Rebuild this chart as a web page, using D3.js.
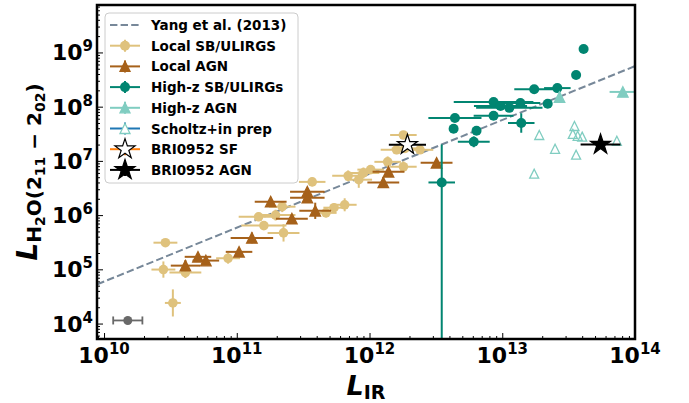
<!DOCTYPE html>
<html>
<head>
<meta charset="utf-8">
<script src="https://cdn.jsdelivr.net/npm/d3@7"></script>
<style>
body { margin: 0; background: #fff; }
text { font-family: "DejaVu Sans", sans-serif; font-weight: bold; }
</style>
</head>
<body>
<svg id="chart" width="689" height="403"></svg>
<script>
// rows: [L_IR, L_H2O, xerr (dex), yerr (dex), optional lower yerr (dex)]
const localSB = [
    [2.9e10, 3.1e5, 0.09, 0.04], [2.8e10, 9.9e4, 0.09, 0.15], [4.1e10, 8.7e4, 0.12, 0.1],
    [3.3e10, 2.4e4, 0.06, 0.25], [8.6e10, 1.6e5, 0.09, 0.1], [1.6e11, 6.4e5, 0.17, 0.08],
    [2.25e11, 4.7e5, 0.12, 0.16], [1.46e11, 9.3e5, 0.15, 0.08], [1.96e11, 1.0e6, 0.15, 0.1],
    [2.2e11, 1.43e6, 0.1, 0.1], [3.7e11, 4.1e6, 0.1, 0.08], [4.7e11, 1.1e6, 0.08, 0.08],
    [5.4e11, 1.37e6, 0.08, 0.08], [6.5e11, 1.55e6, 0.09, 0.12], [6.9e11, 5.3e6, 0.12, 0.1],
    [8.3e11, 4.5e6, 0.1, 0.15], [9.0e11, 6.0e6, 0.12, 0.1], [1.02e12, 6.9e6, 0.1, 0.08],
    [1.37e12, 9.6e6, 0.1, 0.1], [1.8e12, 7.8e6, 0.1, 0.1], [1.8e12, 3.0e7, 0.1, 0.06],
    [1.6e12, 1.6e7, 0.12, 0.08], [1.85e12, 1.7e7, 0.1, 0.08], [2.4e12, 1.6e7, 0.1, 0.06]
];
const localAGN = [
    [4.1e10, 1.17e5, 0.11, 0.1], [5.1e10, 1.7e5, 0.1, 0.06], [5.85e10, 1.45e5, 0.1, 0.06],
    [1.04e11, 2.1e5, 0.1, 0.06], [1.3e11, 3.8e5, 0.16, 0.1], [1.8e11, 1.77e6, 0.12, 0.06],
    [2.6e11, 8.6e5, 0.12, 0.08], [3.4e11, 2.7e6, 0.13, 0.06], [3.4e11, 2.1e6, 0.13, 0.06],
    [3.9e11, 1.2e6, 0.12, 0.15], [1.39e12, 6.3e6, 0.12, 0.06], [1.27e12, 4.0e6, 0.12, 0.1],
    [3.2e12, 9.2e6, 0.12, 0.06]
];
const highzSB = [
    [4.1e13, 1.16e9, 0.02, 0.06], [3.6e13, 3.85e8, 0.02, 0.03], [1.74e13, 2.1e8, 0.15, 0.04],
    [2.6e13, 2.2e8, 0.1, 0.03], [8.6e12, 1.22e8, 0.3, 0.05], [9.7e12, 1.03e8, 0.2, 0.04],
    [1.13e13, 9.5e7, 0.25, 0.06], [1.37e13, 1.17e8, 0.15, 0.08], [2.2e13, 1.13e8, 0.02, 0.03],
    [4.4e12, 6.2e7, 0.2, 0.05], [8.6e12, 6.8e7, 0.15, 0.05], [4.3e12, 3.9e7, 0.02, 0.03],
    [6.4e12, 3.6e7, 0.02, 0.05], [6.1e12, 2.25e7, 0.12, 0.1], [1.39e13, 5.0e7, 0.1, 0.18],
    [3.5e12, 4.0e6, 0.1, 0.7, 5]
];
const highzAGN = [
    [8.1e13, 1.87e8, 0.1, 0.02], [2.7e13, 1.5e8, 0.02, 0.1]
];
const scholtz = [
    [1.9e13, 3.0e7], [2.5e13, 1.67e7], [1.74e13, 5.8e6], [3.5e13, 4.4e7], [3.4e13, 3.15e7],
    [3.7e13, 2.9e7], [4.0e13, 2.8e7], [3.6e13, 1.3e7], [7.3e13, 2.35e7]
];
const briSF = [[1.93e12, 1.98e7, 0.14, 0.07]];
const briAGN = [[5.5e13, 2.0e7, 0.15, 0.06]];
const typicalErr = [[1.51e10, 1.14e4, 0.11, 0]];
const yangLine = [[8.9e9, 5.3e4], [1e14, 5.6e8]];

const legendLabels = ["Yang et al. (2013)", "Local SB/ULIRGS", "Local AGN", "High-z SB/ULIRGs",
    "High-z AGN", "Scholtz+in prep", "BRI0952 SF", "BRI0952 AGN"];
const xTicks = [1e10, 1e11, 1e12, 1e13, 1e14];
const yTicks = [1e4, 1e5, 1e6, 1e7, 1e8, 1e9];

const svg = d3.select("#chart");
const mLeft = 97, mRight = 635, mTop = 5, mBottom = 339;

const x = d3.scaleLog().domain([10 ** 9.947, 1e14]).range([mLeft, mRight]);
const y = d3.scaleLog().domain([10 ** 3.715, 10 ** 9.875]).range([mBottom, mTop]);

svg.append("clipPath").attr("id", "clip")
    .append("rect").attr("x", mLeft).attr("y", mTop).attr("width", mRight - mLeft).attr("height", mBottom - mTop);

const plot = svg.append("g").attr("clip-path", "url(#clip)");

// fit line
plot.append("path")
    .datum(yangLine)
    .attr("d", d3.line().x(d => x(d[0])).y(d => y(d[1])))
    .attr("fill", "none")
    .attr("stroke", "#778899")
    .attr("stroke-width", 2)
    .attr("stroke-dasharray", "7.4,3.2");

function triPath(s) {
    const h = s / 2;
    return `M0,${-h}L${h},${h}L${-h},${h}Z`;
}

function drawErrors(data, color, width, caps) {
    const g = plot.append("g").attr("stroke", color).attr("stroke-width", width);
    g.selectAll(null).data(data.filter(d => d[2] > 0)).join("line")
        .attr("x1", d => x(d[0] / 10 ** d[2]))
        .attr("x2", d => x(d[0] * 10 ** d[2]))
        .attr("y1", d => y(d[1]))
        .attr("y2", d => y(d[1]));
    g.selectAll(null).data(data.filter(d => d[3] > 0)).join("line")
        .attr("x1", d => x(d[0]))
        .attr("x2", d => x(d[0]))
        .attr("y1", d => y(d[1] / 10 ** (d.length > 4 ? d[4] : d[3])))
        .attr("y2", d => y(d[1] * 10 ** d[3]));
    if (caps) {
        for (const side of [-1, 1]) {
            g.selectAll(null).data(data).join("line")
                .attr("x1", d => x(d[0] * 10 ** (side * d[2])))
                .attr("x2", d => x(d[0] * 10 ** (side * d[2])))
                .attr("y1", d => y(d[1]) - 4)
                .attr("y2", d => y(d[1]) + 4);
        }
    }
}

function drawCircles(data, color, r) {
    plot.append("g").selectAll(null).data(data).join("circle")
        .attr("cx", d => x(d[0]))
        .attr("cy", d => y(d[1]))
        .attr("r", r)
        .attr("fill", color);
}

function drawTriangles(data, fill, stroke, size) {
    plot.append("g").selectAll(null).data(data).join("path")
        .attr("transform", d => `translate(${x(d[0])},${y(d[1])})`)
        .attr("d", triPath(size))
        .attr("fill", fill)
        .attr("stroke", stroke)
        .attr("stroke-width", 1.3);
}

function drawStars(data, fill) {
    plot.append("g").selectAll(null).data(data).join("path")
        .attr("transform", d => `translate(${x(d[0])},${y(d[1])})`)
        .attr("d", d3.symbol(d3.symbolStar, 125)())
        .attr("fill", fill)
        .attr("stroke", "#000")
        .attr("stroke-width", 1.2);
}

drawErrors(typicalErr, "#696969", 1.8, true);
drawCircles(typicalErr, "#696969", 4.5);

drawErrors(localSB, "#dfc27d", 2);
drawCircles(localSB, "#dfc27d", 4.8);

drawErrors(localAGN, "#a6611a", 2);
drawTriangles(localAGN, "#a6611a", "#a6611a", 10.5);

drawErrors(highzSB, "#018571", 2);
drawCircles(highzSB, "#018571", 5);

drawErrors(highzAGN, "#80cdc1", 2);
drawTriangles(highzAGN, "#80cdc1", "#80cdc1", 10.5);

drawTriangles(scholtz, "none", "#80cdc1", 9);

drawErrors(briSF, "#000", 2);
drawStars(briSF, "#fff");
drawErrors(briAGN, "#000", 2);
drawStars(briAGN, "#000");

// axes frame
svg.append("rect")
    .attr("x", mLeft).attr("y", mTop)
    .attr("width", mRight - mLeft).attr("height", mBottom - mTop)
    .attr("fill", "none").attr("stroke", "#000").attr("stroke-width", 2.5);

const xAxis = svg.append("g").attr("transform", `translate(0,${mBottom})`)
    .call(d3.axisBottom(x).tickSizeInner(-3).tickSizeOuter(0).tickFormat(""));
xAxis.select(".domain").remove();
xAxis.selectAll(".tick line").attr("stroke-width", 1)
    .filter(d => xTicks.includes(d)).attr("y2", -6);

const yAxis = svg.append("g").attr("transform", `translate(${mLeft},0)`)
    .call(d3.axisLeft(y).tickSizeInner(-3).tickSizeOuter(0).tickFormat(""));
yAxis.select(".domain").remove();
yAxis.selectAll(".tick line").attr("stroke-width", 1)
    .filter(d => yTicks.includes(d)).attr("x2", 6);

function powLabel(sel, v) {
    const e = Math.round(Math.log10(v));
    sel.append("tspan").text("10");
    sel.append("tspan").attr("dy", -9).attr("font-size", 15).text(e);
}

svg.append("g").selectAll(null).data(xTicks).join("text")
    .attr("x", d => x(d))
    .attr("y", mBottom + 24)
    .attr("text-anchor", "middle")
    .attr("font-size", 22)
    .each(function (d) { powLabel(d3.select(this), d); });

svg.append("g").selectAll(null).data(yTicks).join("text")
    .attr("x", mLeft - 4)
    .attr("y", d => y(d) + 8)
    .attr("text-anchor", "end")
    .attr("font-size", 22)
    .each(function (d) { powLabel(d3.select(this), d); });

// axis labels
const xl = svg.append("text")
    .attr("x", (mLeft + mRight) / 2)
    .attr("y", 395)
    .attr("text-anchor", "middle")
    .attr("font-size", 27);
xl.append("tspan").attr("font-style", "italic").text("L");
xl.append("tspan").attr("font-size", 19).attr("dy", 4).text("IR");

const yl = svg.append("text")
    .attr("transform", `translate(37,${(mTop + mBottom) / 2}) rotate(-90)`)
    .attr("text-anchor", "middle")
    .attr("font-size", 28);
yl.append("tspan").attr("font-style", "italic").text("L");
yl.append("tspan").attr("font-size", 20).attr("dy", 4).text("H");
yl.append("tspan").attr("font-size", 14).attr("dy", 4).text("2");
yl.append("tspan").attr("font-size", 20).attr("dy", -4).text("O(2");
yl.append("tspan").attr("font-size", 14).attr("dy", 4).text("11");
yl.append("tspan").attr("font-size", 20).attr("dy", -4).text(" \u2212 2");
yl.append("tspan").attr("font-size", 14).attr("dy", 4).text("02");
yl.append("tspan").attr("font-size", 20).attr("dy", -4).text(")");

// legend
const lg = svg.append("g");
lg.append("rect")
    .attr("x", 105).attr("y", 13).attr("width", 193).attr("height", 170).attr("rx", 4)
    .attr("fill", "#fff").attr("fill-opacity", 0.8)
    .attr("stroke", "#cccccc").attr("stroke-width", 1);

const rowY = i => 25 + i * 20.7;
const hx0 = 110, hx1 = 140, hxm = 125;

lg.append("line").attr("x1", hx0).attr("x2", hx1).attr("y1", rowY(0)).attr("y2", rowY(0))
    .attr("stroke", "#778899").attr("stroke-width", 2).attr("stroke-dasharray", "7.4,3.2");

const handles = [
    { row: 1, line: "#dfc27d", kind: "circle", fill: "#dfc27d" },
    { row: 2, line: "#a6611a", kind: "tri", fill: "#a6611a", stroke: "#a6611a" },
    { row: 3, line: "#018571", kind: "circle", fill: "#018571" },
    { row: 4, line: "#80cdc1", kind: "tri", fill: "#80cdc1", stroke: "#80cdc1" },
    { row: 5, line: "#1f77b4", kind: "tri", fill: "#fff", stroke: "#80cdc1" },
    { row: 6, line: "#ff7f0e", kind: "star", fill: "#fff" },
    { row: 7, line: "#000", kind: "star", fill: "#000" }
];
for (const h of handles) {
    const yy = rowY(h.row);
    lg.append("line").attr("x1", hx0).attr("x2", hx1).attr("y1", yy).attr("y2", yy)
        .attr("stroke", h.line).attr("stroke-width", 2);
    lg.append("line").attr("x1", hxm).attr("x2", hxm).attr("y1", yy - 6).attr("y2", yy + 6)
        .attr("stroke", h.line).attr("stroke-width", 2);
    if (h.kind === "circle") {
        lg.append("circle").attr("cx", hxm).attr("cy", yy).attr("r", 5).attr("fill", h.fill);
    } else if (h.kind === "tri") {
        lg.append("path").attr("transform", `translate(${hxm},${yy})`).attr("d", triPath(10))
            .attr("fill", h.fill).attr("stroke", h.stroke).attr("stroke-width", 1.3);
    } else {
        lg.append("path").attr("transform", `translate(${hxm},${yy})`)
            .attr("d", d3.symbol(d3.symbolStar, 125)())
            .attr("fill", h.fill).attr("stroke", "#000").attr("stroke-width", 1.2);
    }
}

lg.selectAll(null).data(legendLabels).join("text")
    .attr("x", 151)
    .attr("y", (d, i) => rowY(i) + 5)
    .attr("font-size", 13.5)
    .text(d => d);
</script>
</body>
</html>
